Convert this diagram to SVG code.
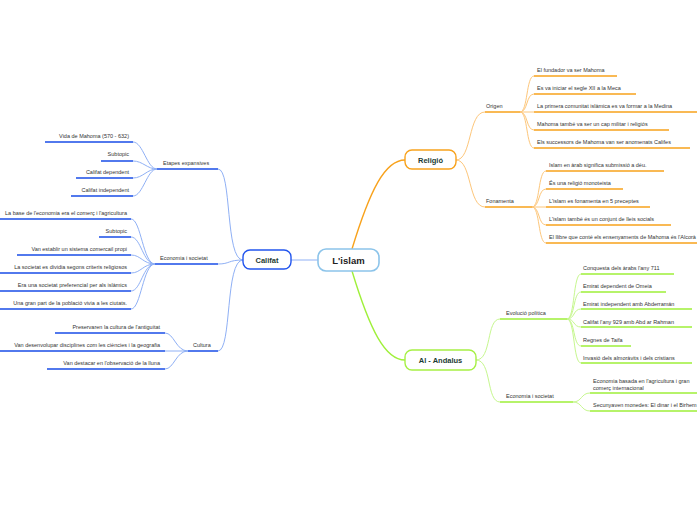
<svg xmlns="http://www.w3.org/2000/svg" width="697" height="520" viewBox="0 0 697 520">
<style>
text{font-family:"Liberation Sans",Arial,sans-serif;font-size:5.5px;fill:#333}
.r{text-anchor:end}
.n{font-size:7.5px;font-weight:bold;fill:#1c3b34;text-anchor:middle}
.t{font-size:9.5px;font-weight:bold;fill:#222;text-anchor:middle}
.c{fill:none}
.o{stroke:#fdc67a;stroke-width:1}
.O{stroke:#f8a21c;stroke-width:1.4}
.g{stroke:#c6f78e;stroke-width:1}
.G{stroke:#9ff03a;stroke-width:1.4}
.b{stroke:#8fb0f5;stroke-width:1}
.B{stroke:#1a4ee8;stroke-width:1.4}
</style>
<rect width="697" height="520" fill="#fff"/>
<g id="connectors" class="c">
<path class="O" d="M352 249 C370 190 385 160 405 160" stroke-width="1.6"/>
<path class="G" d="M352 271 C370 330 385 360 405 360" stroke-width="1.6"/>
<path class="b" d="M291 260 L318 260" stroke-width="1.6"/>
<!-- Religio -->
<path class="o" d="M456 160 C472 160 468 112 485 112 M456 160 C472 160 468 207 485 207"/>
<path class="O" d="M485 112 H520 M485 207 H532"/>
<g class="o">
<path d="M520 112 C528 112 526 76 534 76"/><path d="M520 112 C528 112 526 94 534 94"/><path d="M520 112 H534"/><path d="M520 112 C528 112 526 130 534 130"/><path d="M520 112 C528 112 526 148 534 148"/>
<path d="M532 207 C540 207 538 171 546 171"/><path d="M532 207 C540 207 538 189 546 189"/><path d="M532 207 H546"/><path d="M532 207 C540 207 538 225 546 225"/><path d="M532 207 C540 207 538 243 546 243"/>
</g>
<g class="O">
<path d="M534 76 H617 M534 94 H636 M534 112 H697 M534 130 H669 M534 148 H690"/>
<path d="M546 171 H664 M546 189 H623 M546 207 H650 M546 225 H671 M546 243 H697"/>
</g>
<!-- Al-Andalus -->
<path class="g" d="M476 360 C492 360 486 319 500 319 M476 360 C492 360 486 402 500 402"/>
<path class="G" d="M500 319 H567 M500 402 H573"/>
<g class="g">
<path d="M567 319 C575 319 573 274 581 274"/><path d="M567 319 C575 319 573 292 581 292"/><path d="M567 319 C575 319 573 309 581 309"/><path d="M567 319 C575 319 573 327 581 327"/><path d="M567 319 C575 319 573 346 581 346"/><path d="M567 319 C575 319 573 363 581 363"/>
<path d="M573 402 C582 402 581 393 590 393"/><path d="M573 402 C582 402 581 411 590 411"/>
</g>
<g class="G">
<path d="M581 274 H674 M581 292 H666 M581 309 H692 M581 327 H692 M581 346 H631 M581 363 H692"/>
<path d="M590 393 H697 M590 411 H697"/>
</g>
<!-- Califat -->
<path class="b" d="M243 260 C225 260 232 169 218 169 M243 260 C228 260 230 264 218 264 M243 260 C225 260 232 351 218 351"/>
<path class="B" d="M157 169 H218 M155 264 H218 M188 351 H218"/>
<g class="b">
<path d="M157 169 C147 169 143 142 133 142"/><path d="M157 169 C147 169 143 161 133 161"/><path d="M157 169 C147 169 143 178 133 178"/><path d="M157 169 C147 169 143 196 133 196"/>
<path d="M155 264 C143 264 141 219 131 219"/><path d="M155 264 C143 264 141 237 131 237"/><path d="M155 264 C143 264 141 255 131 255"/><path d="M155 264 C143 264 141 273 131 273"/><path d="M155 264 C143 264 141 291 131 291"/><path d="M155 264 C143 264 141 309 131 309"/>
<path d="M188 351 C176 351 174 333 165 333"/><path d="M188 351 H165"/><path d="M188 351 C176 351 174 369 165 369"/>
</g>
<g class="B">
<path d="M45 142 H133 M101 161 H133 M76 178 H133 M71 196 H133"/>
<path d="M0 219 H131 M99 237 H131 M17 255 H131 M0 273 H131 M0 291 H131 M0 309 H131"/>
<path d="M55 333 H165 M0 351 H165 M47 369 H165"/>
</g>
</g>
<g id="n-center"><rect x="318" y="249" width="61" height="22" rx="8" fill="#fff" stroke="#8cc4ea" stroke-width="1.6"/><text class="t" x="348.5" y="264">L'islam</text></g>
<g id="n-religio"><rect x="405" y="150" width="51" height="19" rx="7" fill="#fff" stroke="#f8a21c" stroke-width="1.4"/><text class="n" x="430.5" y="162.5">Religió</text></g>
<g id="n-andalus"><rect x="405" y="350" width="71" height="20" rx="7" fill="#fff" stroke="#a6f044" stroke-width="1.4"/><text class="n" x="440.5" y="363">Al - Andalus</text></g>
<g id="n-califat"><rect x="243" y="250" width="48" height="19" rx="7" fill="#fff" stroke="#2255ee" stroke-width="1.4"/><text class="n" x="267" y="262.5">Califat</text></g>
<g id="religio-sub">
<text x="486" y="108">Origen</text>
<text x="486" y="203">Fonamenta</text>
<text x="537" y="72">El fundador va ser Mahoma</text>
<text x="537" y="90">Es va iniciar el segle XII a la Meca</text>
<text x="537" y="108">La primera comunitat islàmica es va formar a la Medina</text>
<text x="537" y="126">Mahoma també va ser un cap militar i religiós</text>
<text x="537" y="144">Els successors de Mahoma van ser anomenats Califes</text>
<text x="549" y="167">Islam en àrab significa submissió a déu.</text>
<text x="549" y="185">És una religió monoteista</text>
<text x="549" y="203">L'islam es fonamenta en 5 preceptes</text>
<text x="549" y="221">L'islam també és un conjunt de lleis socials</text>
<text x="549" y="239">El llibre que conté els ensenyaments de Mahoma és l'Alcorà</text>
</g>
<g id="andalus-sub">
<text x="506" y="315">Evolució política</text>
<text x="506" y="398">Economia i societat</text>
<text x="583" y="270">Conquesta dels àrabs l'any 711</text>
<text x="583" y="288">Emirat dependent de Omeia</text>
<text x="583" y="306">Emirat independent amb Abderramán</text>
<text x="583" y="324">Califat l'any 929 amb Abd ar Rahman</text>
<text x="583" y="342">Regnes de Taifa</text>
<text x="583" y="360">Invasió dels almoràvits i dels cristians</text>
<text x="593" y="383">Economia basada en l'agricultura i gran</text>
<text x="593" y="389.5">comerç internacional</text>
<text x="593" y="407">Secunyaven monedes: El dinar i el Birhem</text>
</g>
<g id="califat-sub">
<text x="163" y="165">Etapes expansives</text>
<text x="160" y="260">Economia i societat</text>
<text x="193" y="347">Cultura</text>
<text class="r" x="129" y="138">Vida de Mahoma (570 - 632)</text>
<text class="r" x="129" y="156">Subtopic</text>
<text class="r" x="129" y="174">Califat dependent</text>
<text class="r" x="129" y="192">Califat independent</text>
<text class="r" x="127" y="215">La base de l'economia era el comerç i l'agricultura</text>
<text class="r" x="127" y="233">Subtopic</text>
<text class="r" x="127" y="251">Van establir un sistema comercail propi</text>
<text class="r" x="127" y="269">La societat es dividia segons criteris religiosos</text>
<text class="r" x="127" y="287">Era una societat preferencial per als islàmics</text>
<text class="r" x="127" y="305">Una gran part de la població vivia a les ciutats.</text>
<text class="r" x="160" y="329">Preservaren la cultura de l'antiguitat</text>
<text class="r" x="160" y="347">Van desenvolupar disciplines com les ciències i la geografia</text>
<text class="r" x="160" y="365">Van destacar en l'observació de la lluna</text>
</g>
</svg>
